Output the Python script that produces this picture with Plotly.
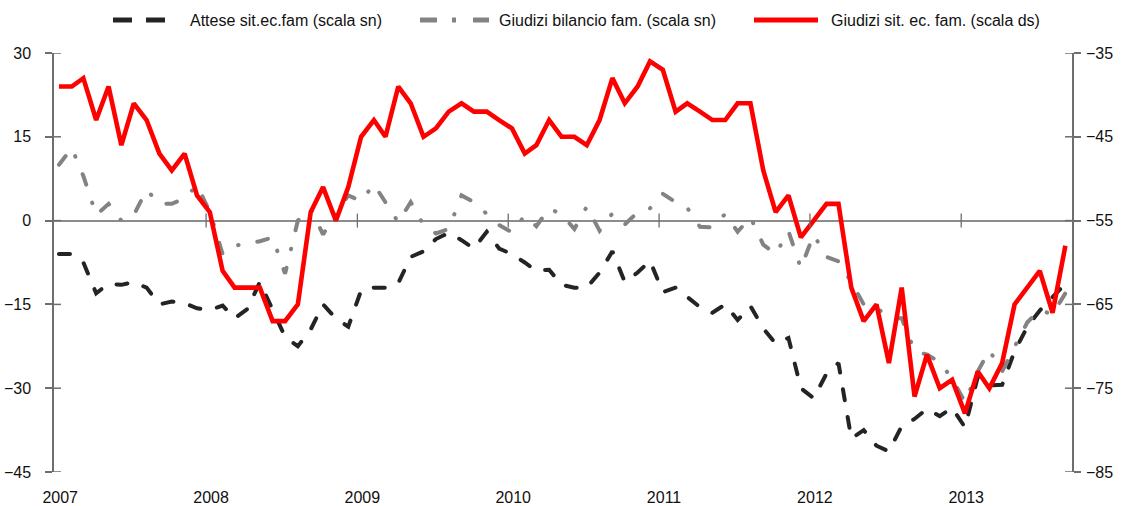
import pandas as pd
import plotly.graph_objects as go

# ---- data (monthly, Jan 2007 - Sep 2013) ----
months = pd.date_range("2007-01-01", "2013-09-01", freq="MS")
years = [2007, 2008, 2009, 2010, 2011, 2012, 2013]

# Attese sit. ec. fam (left scale)
attese = [
    -6, -6, -7.5, -13, -11.3, -11.5, -11, -12, -15, -14.5, -14.8, -15.7,
    -16, -15.2, -17.5, -15.8, -11, -16, -20.8, -22.5, -19.5, -15, -17.5, -19,
    -12.5, -12, -12, -11.2, -6.5, -5.5, -3.3, -2.2, -3.5, -5, -2, -5,
    -6, -7.5, -9, -8.8, -11.5, -12, -12, -9.3, -5.5, -11, -9.3, -7.2,
    -12.8, -12, -13.6, -15.5, -16.5, -15, -17.8, -15.3, -19.3, -22, -21, -30,
    -31.8, -27.4, -25.5, -39, -37.5, -40.3, -41.3, -36.8, -35.5, -33.7, -35, -33.5,
    -37, -28, -29.5, -29.4, -23.4, -19, -16.1, -13.8, -11.3,
]

# Giudizi bilancio fam. (left scale)
bilancio = [
    10, 13, 8, 1, 3, 0, 1, 5.5, 3, 3, 4, 6.3,
    1.6, -6, -4.5, -4, -3.7, -3, -9.5, 0, 2.2, -2.5, 1.5, 4.5,
    3.5, 6.5, 3.3, -0.3, 3.3, -0.8, -2.3, -1.5, 4.5, 3.3, 1.2, -0.8,
    -2.1, 0.9, -1, 2.2, 1.1, -1.5, 2.5, -1.8, 1.3, -0.7, 1.5, 2.2,
    4.8, 3.3, 2.3, -1.1, -1.2, 1.2, -2, 0.6, -4.3, -6, -1.9, -8.5,
    -2.5, -6.5, -7.3, -11, -15, -15.5, -17.5, -17.5, -23.3, -24, -25.3, -28.3,
    -32.5, -27, -23.2, -27, -22.6, -18.2, -16, -16.8, -13,
]

# Giudizi sit. ec. fam. (right scale)
situazione = [
    -39, -39, -38, -43, -39, -46, -41, -43, -47, -49, -47, -52,
    -54, -61, -63, -63, -63, -67, -67, -65, -54, -51, -55, -51,
    -45, -43, -45, -39, -41, -45, -44, -42, -41, -42, -42, -43,
    -44, -47, -46, -43, -45, -45, -46, -43, -38, -41, -39, -36,
    -37, -42, -41, -42, -43, -43, -41, -41, -49, -54, -52, -57,
    -55, -53, -53, -63, -67, -65, -72, -63, -76, -71, -75, -74,
    -78, -73, -75, -72, -65, -63, -61, -66, -58,
]

left_ticks = [-45, -30, -15, 0, 15, 30]
right_ticks = [-85, -75, -65, -55, -45, -35]

names = ["Attese sit.ec.fam (scala sn)",
         "Giudizi bilancio fam. (scala sn)",
         "Giudizi sit. ec. fam. (scala ds)"]

DARK = "#242424"
GRAY = "#838383"
RED = "#FF0000"
AXC = "#6e6e6e"
TXT = "#111111"
FONT = "Liberation Sans, Arial, sans-serif"
FS = 16

fig = go.Figure()
fig.add_trace(go.Scatter(x=months, y=attese, mode="lines", name=names[0],
                         line=dict(color=DARK, width=4, dash="11px,17px"),
                         yaxis="y", showlegend=False))
fig.add_trace(go.Scatter(x=months, y=bilancio, mode="lines", name=names[1],
                         line=dict(color=GRAY, width=4, dash="11px,19px,0.5px,19px"),
                         yaxis="y", showlegend=False))
fig.add_trace(go.Scatter(x=months, y=situazione, mode="lines", name=names[2],
                         line=dict(color=RED, width=4.6),
                         yaxis="y2", showlegend=False))

# geometry helpers (plot area in pixels)
W, H = 1121, 506
L, R, T, B = 54, 49, 53, 34
PW, PH = W - L - R, H - T - B


def px_x(p):
    return (p - L) / PW


def px_y(p):
    return (H - B - p) / PH


shapes = []
# inner halves of crossing tick marks on both value axes
for v in left_ticks:
    shapes.append(dict(type="line", xref="paper", yref="y", xsizemode="pixel",
                       xanchor=0, x0=0, x1=7, y0=v, y1=v,
                       line=dict(color=AXC, width=1.5)))
for v in right_ticks:
    shapes.append(dict(type="line", xref="paper", yref="y2", xsizemode="pixel",
                       xanchor=1, x0=-7, x1=0, y0=v, y1=v,
                       line=dict(color=AXC, width=1.5)))
# year boundary tick marks on the zero line
for yr in years[1:]:
    b = pd.Timestamp(f"{yr - 1}-12-23")
    shapes.append(dict(type="line", xref="x", yref="y", ysizemode="pixel",
                       yanchor=0, y0=-7, y1=7, x0=b, x1=b,
                       line=dict(color=AXC, width=1.3)))

# legend (drawn manually to match sample lengths)
ly = px_y(20)
shapes.append(dict(type="line", xref="paper", yref="paper", x0=px_x(113), x1=px_x(166),
                   y0=ly, y1=ly, line=dict(color=DARK, width=5, dash="19px,14px")))
shapes.append(dict(type="line", xref="paper", yref="paper", x0=px_x(420), x1=px_x(489),
                   y0=ly, y1=ly, line=dict(color=GRAY, width=5, dash="17px,15px,4px,17px")))
shapes.append(dict(type="line", xref="paper", yref="paper", x0=px_x(754), x1=px_x(818),
                   y0=ly, y1=ly, line=dict(color=RED, width=5)))

annotations = []
for name, xp in zip(names, [188, 497, 829]):
    annotations.append(dict(text=name, xref="paper", yref="paper", x=px_x(xp), y=ly,
                            xanchor="left", yanchor="middle", showarrow=False,
                            font=dict(family=FONT, size=FS, color=TXT)))

fig.update_layout(
    width=W, height=H,
    margin=dict(l=L, r=R, t=T, b=B, pad=0, autoexpand=False),
    paper_bgcolor="white", plot_bgcolor="white",
    font=dict(family=FONT, size=FS, color=TXT),
    showlegend=False,
    shapes=shapes, annotations=annotations,
    xaxis=dict(type="date", range=["2006-12-20", "2013-09-17"],
               tickvals=[pd.Timestamp(f"{y}-01-04") for y in years],
               ticktext=[str(y) for y in years], automargin=False,
               ticks="", showline=False, showgrid=False, zeroline=False,
               ticklabelstandoff=14),
    yaxis=dict(range=[-45, 30], tickvals=left_ticks, ticks="outside", ticklen=7,
               tickwidth=1.5, tickcolor=AXC, showline=True, linecolor=AXC, linewidth=1.5,
               showgrid=False, zeroline=True, zerolinecolor="#8c8c8c", zerolinewidth=1.5,
               ticklabelstandoff=11, automargin=False),
    yaxis2=dict(range=[-85, -35], tickvals=right_ticks, overlaying="y", side="right",
                ticks="outside", ticklen=7, tickwidth=1.5, tickcolor=AXC,
                showline=True, linecolor=AXC, linewidth=1.5, showgrid=False,
                zeroline=False, automargin=False, ticklabelstandoff=2),
)

post = """
document.body.style.margin = '0';
document.body.style.padding = '0';
document.querySelectorAll('.scatterlayer path.js-line').forEach(function(p){
  if (p.style.strokeDasharray && p.style.strokeDasharray !== 'none') {
    p.style.strokeLinecap = 'round';
  }
});
"""
fig.write_html("out.html", post_script=post, config={"displayModeBar": False})
